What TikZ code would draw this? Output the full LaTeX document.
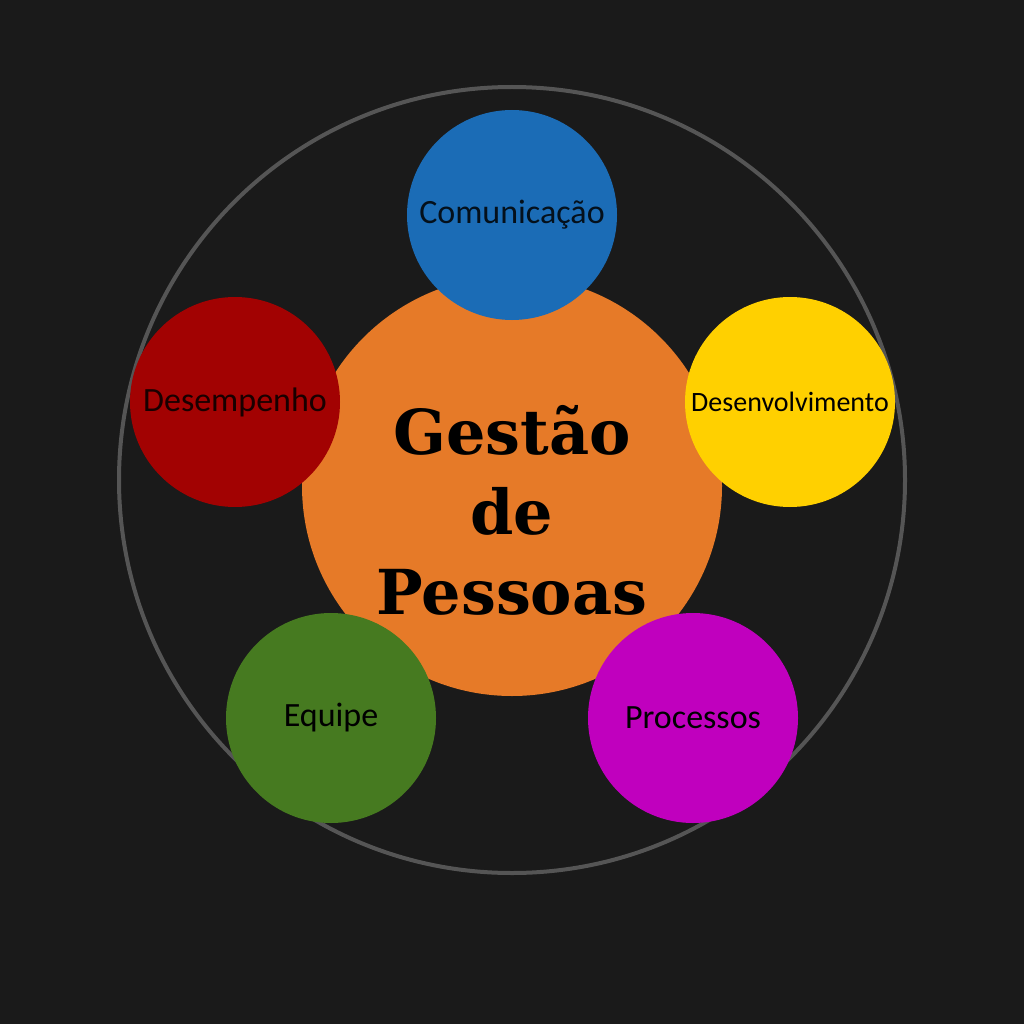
\documentclass[tikz,border=0pt]{standalone}
\usepackage{fontspec}
\setmainfont{Carlito}
\newfontfamily\titlefont{DejaVu Serif}
\definecolor{bg}{HTML}{1A1A1A}
\definecolor{ring}{HTML}{555555}
\definecolor{corange}{HTML}{E67A28}
\definecolor{cblue}{HTML}{1B6CB6}
\definecolor{cred}{HTML}{A20202}
\definecolor{cyellow}{HTML}{FFD000}
\definecolor{cgreen}{HTML}{467A20}
\definecolor{cpurple}{HTML}{C000BE}
\begin{document}
\begin{tikzpicture}[x=1pt,y=-1pt,
  topic/.style={circle,minimum size=210pt,inner sep=0pt,font=\fontsize{34}{38}\selectfont,text=black},
  core/.style={circle,fill=corange,minimum size=420pt,inner sep=0pt},
  titletext/.style={align=center,inner sep=0pt,
    font=\titlefont\bfseries\fontsize{62}{80}\selectfont,text=black}]
\fill[bg] (0,0) rectangle (1024,1024);
\useasboundingbox (0,0) rectangle (1024,1024);
\node[circle,draw=ring,line width=4pt,minimum size=786pt,inner sep=0pt] (outer) at (512,480) {};
\node[core] (center) at (512,486) {};
\node[titletext] (title) at (512,510) {Gestão\\de\\Pessoas};
\node[topic,fill=cblue,text=black!85!cblue] (com) at (512,215) {Comunicação};
\node[topic,fill=cred,text=black!85!cred] (des) at (235,402) {Desempenho};
\node[topic,fill=cyellow,font=\fontsize{28}{32}\selectfont] (dev) at (790,402) {Desenvolvimento};
\node[topic,fill=cgreen] (equ) at (331,718) {Equipe};
\node[topic,fill=cpurple] (pro) at (693,718) {Processos};
\end{tikzpicture}
\end{document}
